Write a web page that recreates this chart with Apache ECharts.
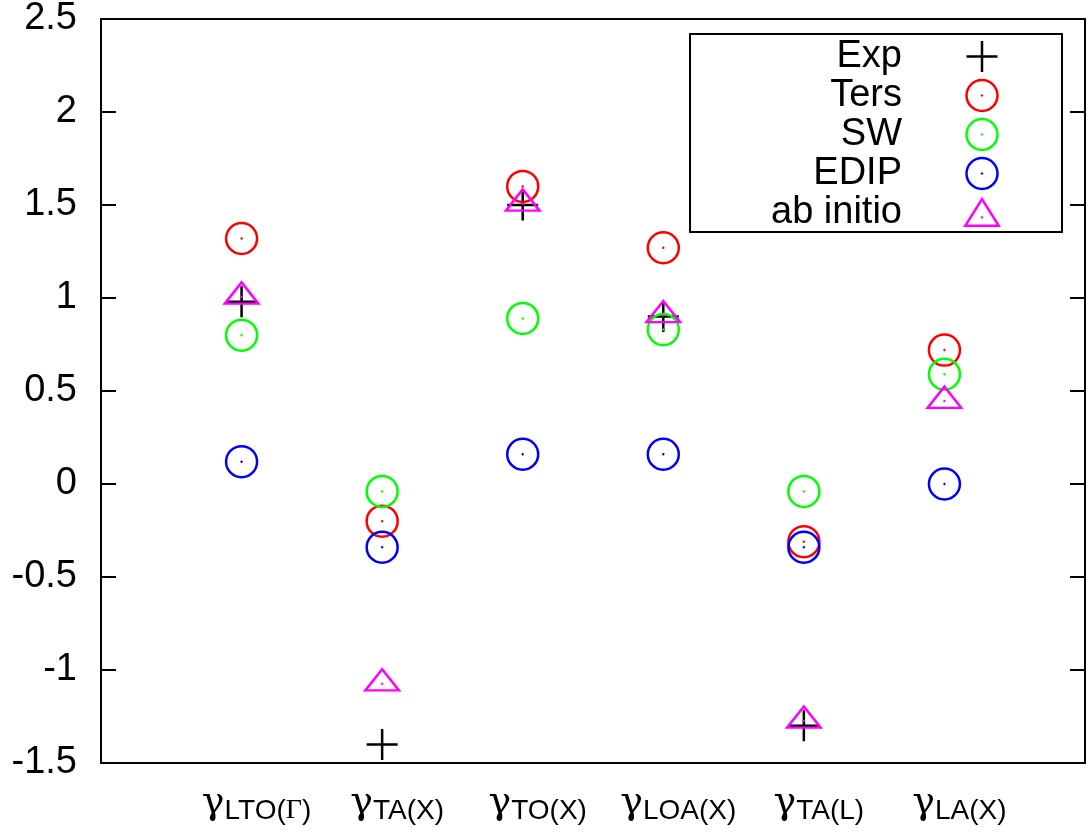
<!DOCTYPE html>
<html>
<head>
<meta charset="utf-8">
<script src="https://cdn.jsdelivr.net/npm/echarts@6/dist/echarts.min.js"></script>
<style>
  html, body { margin: 0; padding: 0; background: #fff; }
  #chart { width: 1088px; height: 834px; }
</style>
</head>
<body>
<div id="chart"></div>
<script>
// Phonon modes (subscripts of the mode Grüneisen parameter γ)
const modes = ['LTO(Γ)', 'TA(X)', 'TO(X)', 'LOA(X)', 'TA(L)', 'LA(X)'];

// Grüneisen parameters per mode
const expValues      = [0.98, -1.40, 1.50, 0.90, -1.30, null];
const tersValues     = [1.32, -0.20, 1.60, 1.27, -0.31, 0.72];
const swValues       = [0.80, -0.04, 0.89, 0.83, -0.04, 0.59];
const edipValues     = [0.12, -0.34, 0.16, 0.16, -0.34, 0.00];
const abInitioValues = [1.00, -1.08, 1.50, 0.90, -1.28, 0.44];

// y axis range and step
const yMin = -1.5, yMax = 2.5, yStep = 0.5;

// Point symbols: open circle / triangle with a centre dot, and a plus sign
const CIRCLE = 'path://M-15,0A15,15,0,1,0,15,0A15,15,0,1,0,-15,0ZM-0.6,0L0.6,0M0,-0.6L0,0.6';
const TRIANGLE = 'path://M0,0L16.8,26.7L-16.8,26.7ZM-0.6,18.3L0.6,18.3M0,17.7L0,18.9';
// legend version of the triangle, padded vertically so it keeps its size
const TRIANGLE_KEY = 'path://M0,-2.2M0,0L16.8,26.7L-16.8,26.7ZM-0.6,18.3L0.6,18.3M0,17.7L0,18.9M0,28.9';
const PLUS = 'path://M-15,0L15,0M0,-15L0,15';

const LINE_W = 2.5;

function toPoints(values) {
  return values.map((v, i) => (v === null ? null : [i + 1, v])).filter(p => p !== null);
}

function pointSeries(name, values, symbol, size, color, offset) {
  return {
    name: name,
    type: 'scatter',
    data: toPoints(values),
    symbol: symbol,
    symbolSize: size,
    symbolKeepAspect: true,
    symbolOffset: offset || [0, 0],
    itemStyle: { color: 'transparent', borderColor: color, borderWidth: LINE_W, opacity: 1 },
    emphasis: { disabled: true },
    silent: true,
    z: 3
  };
}

const legendItem = (name, icon, color) => ({
  name: name,
  icon: icon,
  itemStyle: { color: 'transparent', borderColor: color, borderWidth: LINE_W }
});

const chart = echarts.init(document.getElementById('chart'), null, { renderer: 'canvas' });

chart.setOption({
  animation: false,
  backgroundColor: '#fff',
  grid: {
    left: 101, right: 3, top: 19, bottom: 71,
    show: true, borderColor: '#000', borderWidth: 2, backgroundColor: 'transparent'
  },
  legend: {
    orient: 'vertical',
    right: 26,
    top: 34,
    align: 'right',
    padding: [3, 62, 0, 81],
    borderColor: '#000',
    borderWidth: 2,
    itemWidth: 150,
    itemHeight: 31,
    itemGap: 0,
    selectedMode: false,
    symbolKeepAspect: true,
    textStyle: { fontFamily: 'Liberation Sans', fontSize: 38, color: '#000', lineHeight: 39 },
    data: [
      legendItem('Exp', PLUS, '#000000'),
      legendItem('Ters', CIRCLE, '#ff0000'),
      legendItem('SW', CIRCLE, '#00ff00'),
      legendItem('EDIP', CIRCLE, '#0000ff'),
      legendItem('ab initio', TRIANGLE_KEY, '#ff00ff')
    ]
  },
  xAxis: {
    type: 'value',
    min: 0, max: 7, interval: 1,
    axisLine: { show: false },
    axisTick: { show: false },
    splitLine: { show: false },
    axisLabel: {
      margin: 21,
      padding: [0, 0, 0, 30],
      formatter: function (v) {
        if (v < 1 || v > modes.length) return '';
        const m = modes[v - 1];
        return '{g|γ}{s|' + m.replace('Γ', '}{G|Γ}{s|') + '}';
      },
      rich: {
        g: { fontFamily: 'DejaVu Serif', fontSize: 38, color: '#000', verticalAlign: 'bottom', padding: [0, 0, 3, 0] },
        s: { fontFamily: 'Liberation Sans', fontSize: 28, color: '#000', verticalAlign: 'bottom' },
        G: { fontFamily: 'Liberation Serif', fontSize: 28, color: '#000', verticalAlign: 'bottom' }
      }
    }
  },
  yAxis: [
    {
      type: 'value',
      min: yMin, max: yMax, interval: yStep,
      axisLine: { show: false },
      splitLine: { show: false },
      axisTick: { show: true, inside: true, length: 15, lineStyle: { color: '#000', width: 2 } },
      axisLabel: { margin: 24, fontFamily: 'Liberation Sans', fontSize: 38, color: '#000' }
    },
    {
      type: 'value',
      position: 'right',
      min: yMin, max: yMax, interval: yStep,
      axisLine: { show: false },
      splitLine: { show: false },
      axisTick: { show: true, inside: true, length: 15, lineStyle: { color: '#000', width: 2 } },
      axisLabel: { show: false }
    }
  ],
  series: [
    pointSeries('Exp', expValues, PLUS, 31, '#000000'),
    pointSeries('Ters', tersValues, CIRCLE, 31, '#ff0000'),
    pointSeries('SW', swValues, CIRCLE, 31, '#00ff00'),
    pointSeries('EDIP', edipValues, CIRCLE, 31, '#0000ff'),
    pointSeries('ab initio', abInitioValues, TRIANGLE, [33.6, 26.7], '#ff00ff', [0, -5])
  ]
});
</script>
</body>
</html>
